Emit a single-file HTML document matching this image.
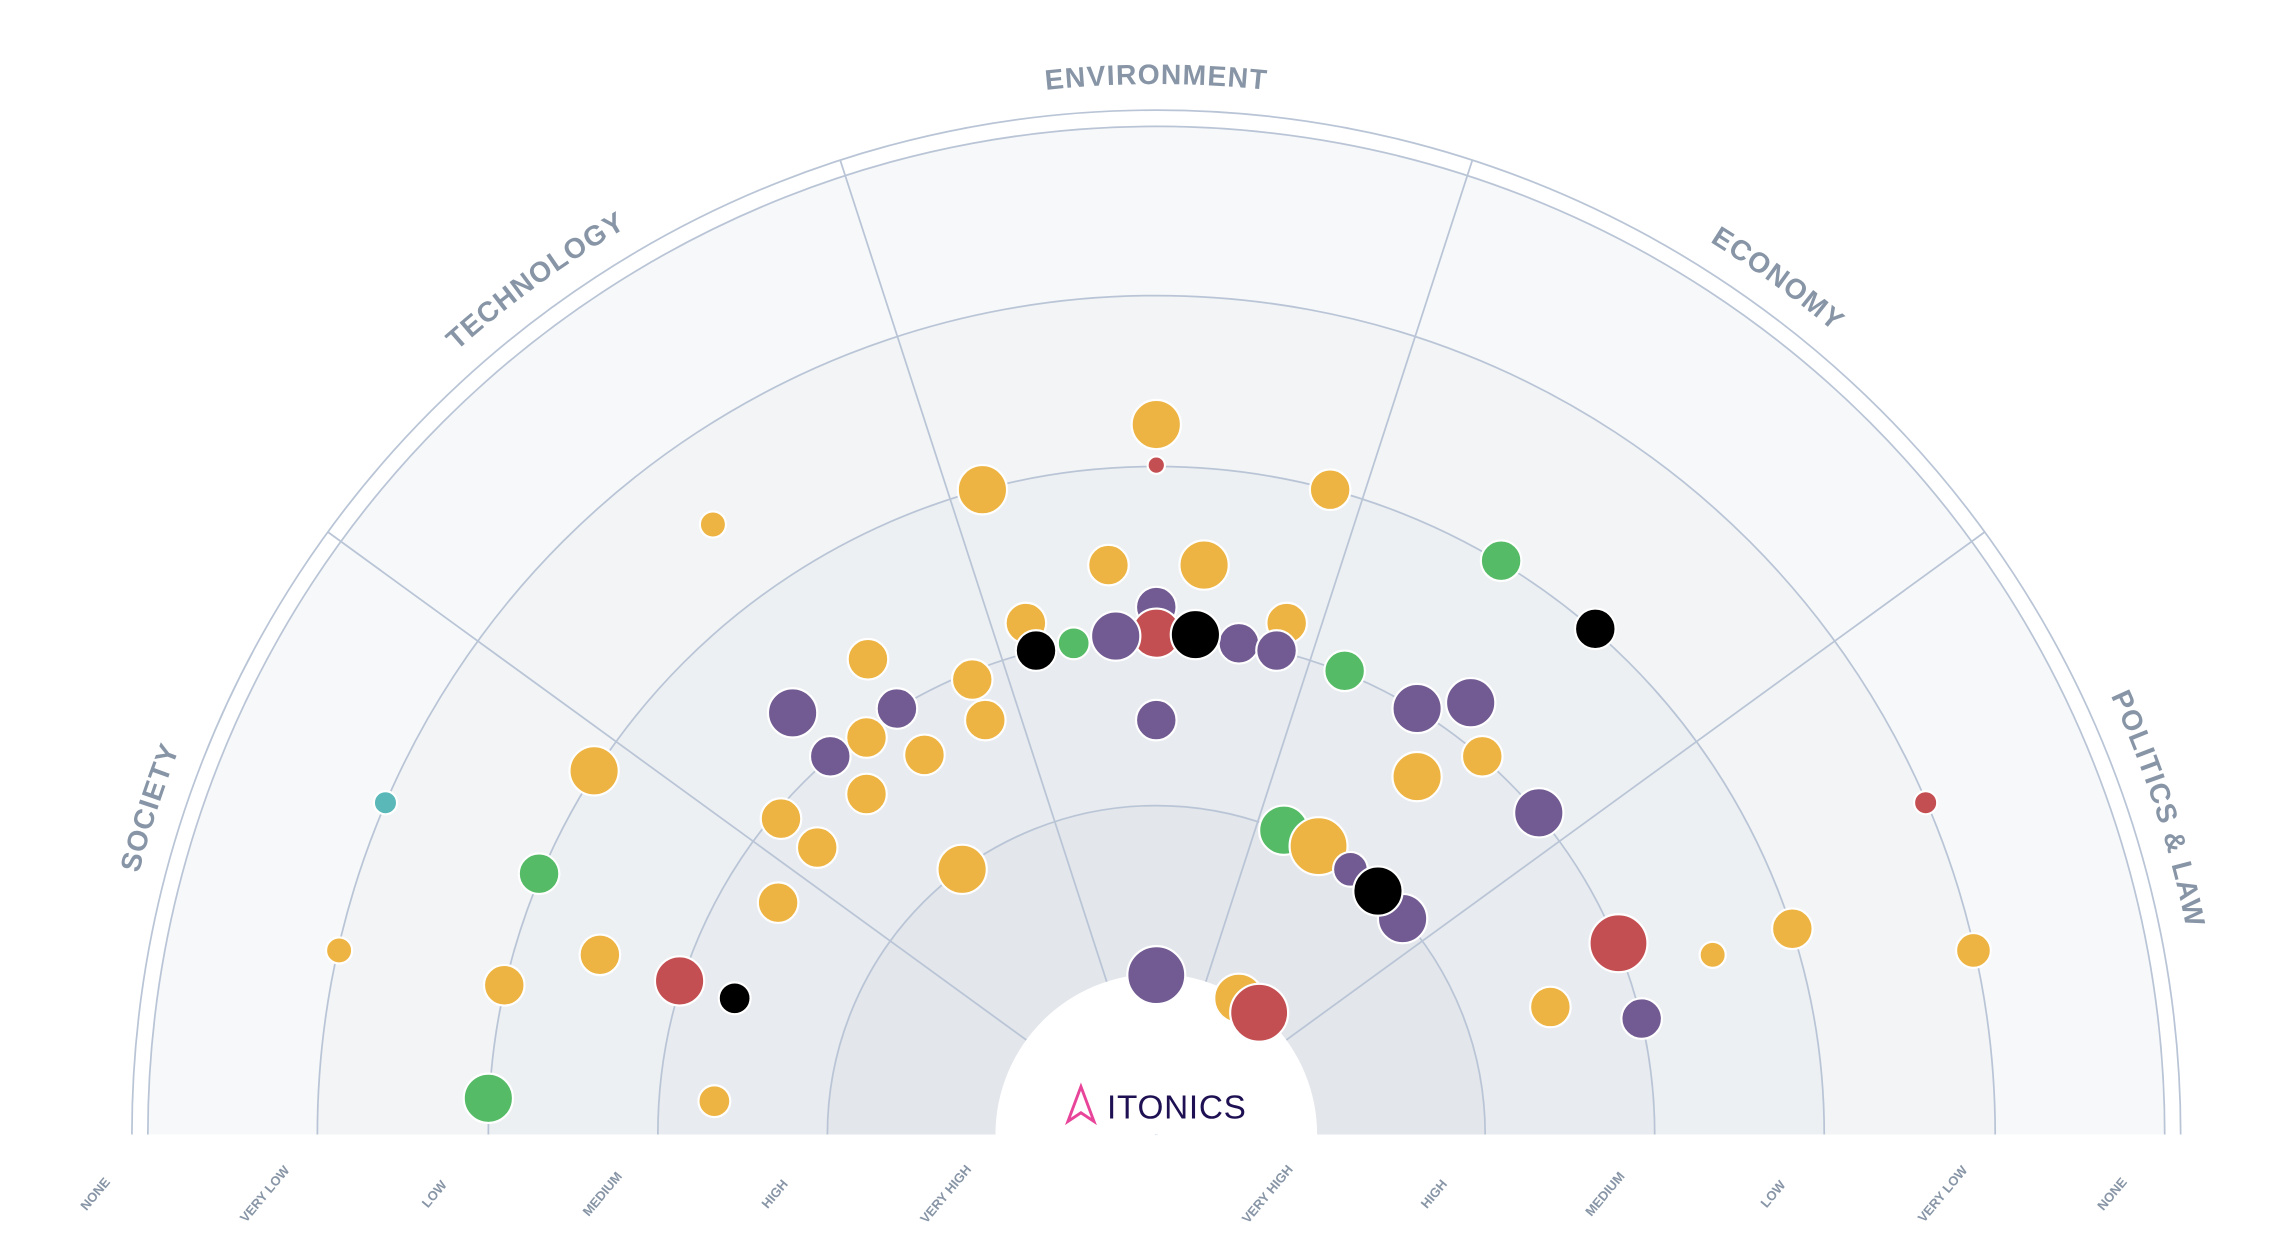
<!DOCTYPE html>
<html><head><meta charset="utf-8"><style>
html,body{margin:0;padding:0;background:#fff;}
svg{display:block;}
text{font-family:"Liberation Sans","DejaVu Sans",sans-serif;}
</style></head><body>
<svg width="2272" height="1242" viewBox="0 0 1568 857.2" xmlns="http://www.w3.org/2000/svg">
<defs>
<path id="lab" d="M 73 783 A 725 725 0 0 1 1523 783"/>
</defs>
<g stroke="#b9c5d6" stroke-width="1.2">
<path d="M 91 783 A 707 707 0 0 1 1505 783" fill="none"/>
<path d="M 102 783 A 696 696 0 0 1 1494 783" fill="#f7f8fa"/>
<path d="M 219 783 A 579 579 0 0 1 1377 783" fill="#f2f4f6"/>
<path d="M 337 783 A 461 461 0 0 1 1259 783" fill="#edf0f3"/>
<path d="M 454 783 A 344 344 0 0 1 1142 783" fill="#e8ebef"/>
<path d="M 571 783 A 227 227 0 0 1 1025 783" fill="#e3e6eb"/>
<line x1="798" y1="783" x2="226" y2="367"/>
<line x1="798" y1="783" x2="580" y2="111"/>
<line x1="798" y1="783" x2="1016" y2="111"/>
<line x1="798" y1="783" x2="1370" y2="367"/>
</g>
<path d="M 687 783 A 111 111 0 0 1 909 783 Z" fill="#fff"/>
<g font-size="19.5" font-weight="bold" fill="#8795a6" letter-spacing="0.8">
<text><textPath href="#lab" startOffset="10%" text-anchor="middle">SOCIETY</textPath></text>
<text><textPath href="#lab" startOffset="30%" text-anchor="middle">TECHNOLOGY</textPath></text>
<text><textPath href="#lab" startOffset="50%" text-anchor="middle">ENVIRONMENT</textPath></text>
<text><textPath href="#lab" startOffset="70%" text-anchor="middle">ECONOMY</textPath></text>
<text><textPath href="#lab" startOffset="90%" text-anchor="middle">POLITICS &amp; LAW</textPath></text>
</g>
<g font-size="9" font-weight="bold" fill="#8795a6" text-anchor="middle">
<text transform="translate(68,826) rotate(-50)">NONE</text>
<text transform="translate(185,826) rotate(-50)">VERY LOW</text>
<text transform="translate(302,826) rotate(-50)">LOW</text>
<text transform="translate(418,826) rotate(-50)">MEDIUM</text>
<text transform="translate(537,826) rotate(-50)">HIGH</text>
<text transform="translate(655,826) rotate(-50)">VERY HIGH</text>
<text transform="translate(877,826) rotate(-50)">VERY HIGH</text>
<text transform="translate(992,826) rotate(-50)">HIGH</text>
<text transform="translate(1110,826) rotate(-50)">MEDIUM</text>
<text transform="translate(1226,826) rotate(-50)">LOW</text>
<text transform="translate(1343,826) rotate(-50)">VERY LOW</text>
<text transform="translate(1460,826) rotate(-50)">NONE</text>
</g>
<g stroke="#fff" stroke-width="1.5">
<circle cx="798" cy="293" r="17" fill="#edb443"/>
<circle cx="798" cy="321" r="6" fill="#c44f52"/>
<circle cx="678" cy="338" r="17" fill="#edb443"/>
<circle cx="918" cy="338" r="14" fill="#edb443"/>
<circle cx="492" cy="362" r="9" fill="#edb443"/>
<circle cx="765" cy="390" r="14" fill="#edb443"/>
<circle cx="831" cy="390" r="17" fill="#edb443"/>
<circle cx="1036" cy="387" r="14" fill="#55bb67"/>
<circle cx="708" cy="430" r="14" fill="#edb443"/>
<circle cx="888" cy="430" r="14" fill="#edb443"/>
<circle cx="1101" cy="434" r="14" fill="#000"/>
<circle cx="798" cy="419" r="14" fill="#715b92"/>
<circle cx="798" cy="437" r="17" fill="#c44f52"/>
<circle cx="770" cy="439" r="17" fill="#715b92"/>
<circle cx="741" cy="444" r="11" fill="#55bb67"/>
<circle cx="855" cy="444" r="14" fill="#715b92"/>
<circle cx="881" cy="449" r="14" fill="#715b92"/>
<circle cx="825" cy="438" r="17" fill="#000"/>
<circle cx="715" cy="449" r="14" fill="#000"/>
<circle cx="599" cy="455" r="14" fill="#edb443"/>
<circle cx="928" cy="463" r="14" fill="#55bb67"/>
<circle cx="671" cy="469" r="14" fill="#edb443"/>
<circle cx="619" cy="489" r="14" fill="#715b92"/>
<circle cx="978" cy="489" r="17" fill="#715b92"/>
<circle cx="1015" cy="485" r="17" fill="#715b92"/>
<circle cx="547" cy="492" r="17" fill="#715b92"/>
<circle cx="680" cy="497" r="14" fill="#edb443"/>
<circle cx="798" cy="497" r="14" fill="#715b92"/>
<circle cx="598" cy="509" r="14" fill="#edb443"/>
<circle cx="573" cy="522" r="14" fill="#715b92"/>
<circle cx="638" cy="521" r="14" fill="#edb443"/>
<circle cx="1023" cy="522" r="14" fill="#edb443"/>
<circle cx="410" cy="532" r="17" fill="#edb443"/>
<circle cx="978" cy="536" r="17" fill="#edb443"/>
<circle cx="598" cy="548" r="14" fill="#edb443"/>
<circle cx="266" cy="554" r="8" fill="#5bb8b8"/>
<circle cx="1329" cy="554" r="8" fill="#c44f52"/>
<circle cx="539" cy="565" r="14" fill="#edb443"/>
<circle cx="1062" cy="561" r="17" fill="#715b92"/>
<circle cx="886" cy="573" r="17" fill="#55bb67"/>
<circle cx="910" cy="584" r="20" fill="#edb443"/>
<circle cx="564" cy="585" r="14" fill="#edb443"/>
<circle cx="664" cy="600" r="17" fill="#edb443"/>
<circle cx="372" cy="603" r="14" fill="#55bb67"/>
<circle cx="932" cy="600" r="12" fill="#715b92"/>
<circle cx="968" cy="634" r="17" fill="#715b92"/>
<circle cx="951" cy="615" r="17" fill="#000"/>
<circle cx="537" cy="623" r="14" fill="#edb443"/>
<circle cx="1117" cy="651" r="20" fill="#c44f52"/>
<circle cx="1237" cy="641" r="14" fill="#edb443"/>
<circle cx="1182" cy="659" r="9" fill="#edb443"/>
<circle cx="1362" cy="656" r="12" fill="#edb443"/>
<circle cx="234" cy="656" r="9" fill="#edb443"/>
<circle cx="414" cy="659" r="14" fill="#edb443"/>
<circle cx="348" cy="680" r="14" fill="#edb443"/>
<circle cx="469" cy="677" r="17" fill="#c44f52"/>
<circle cx="507" cy="689" r="11" fill="#000"/>
<circle cx="798" cy="673" r="20" fill="#715b92"/>
<circle cx="855" cy="689" r="17" fill="#edb443"/>
<circle cx="869" cy="699" r="20" fill="#c44f52"/>
<circle cx="1070" cy="695" r="14" fill="#edb443"/>
<circle cx="1133" cy="703" r="14" fill="#715b92"/>
<circle cx="337" cy="758" r="17" fill="#55bb67"/>
<circle cx="493" cy="760" r="11" fill="#edb443"/>
</g>
<path d="M746 750 L737 774 L746 768 L755 774 Z" fill="none" stroke="#e8459a" stroke-width="2" stroke-linejoin="miter"/>
<text x="764" y="772" font-size="23" fill="#1e1052" letter-spacing="0.5">ITONICS</text>
</svg>
</body></html>
